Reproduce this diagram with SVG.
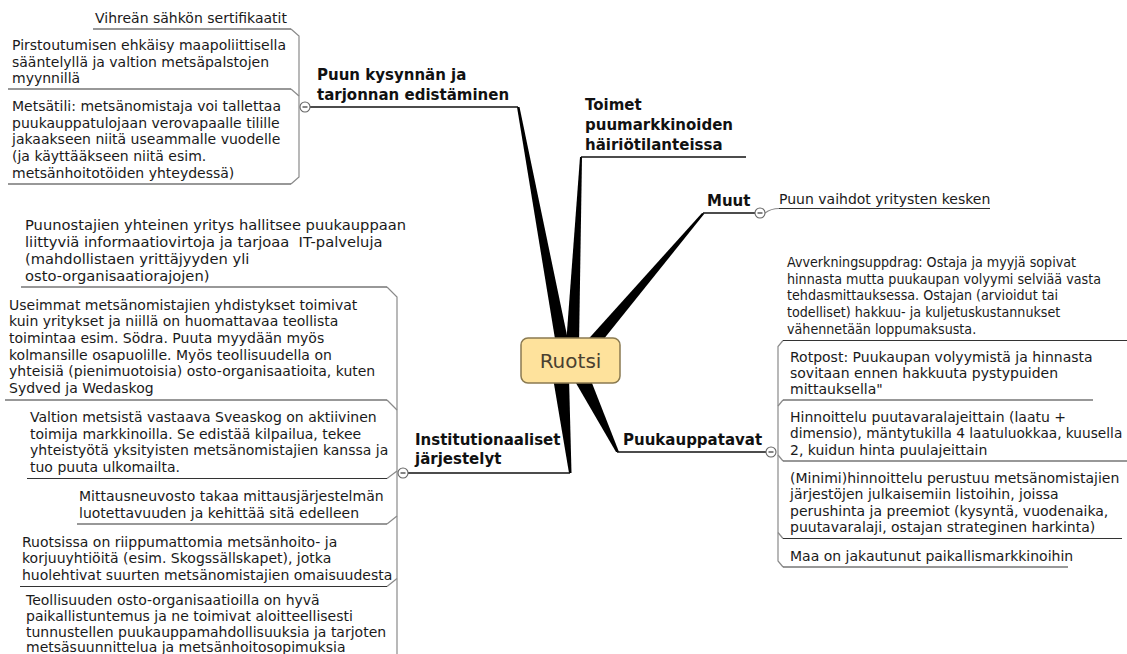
<svg xmlns="http://www.w3.org/2000/svg" width="1127" height="654" viewBox="0 0 1127 654">
  <style>
    .t { font-family: "DejaVu Sans", Verdana, sans-serif; font-size: 14px; fill: #1a1a1a; }
    .t15 { font-size: 14.7px; }
    .h { font-family: "DejaVu Sans", Verdana, sans-serif; font-size: 15px; font-weight: bold; fill: #111; }
    .root { font-family: "DejaVu Sans", Verdana, sans-serif; font-size: 20px; fill: #4a4030; }
    .ul { stroke: #333; stroke-width: 1.2; fill: none; }
    .br { stroke: #8a8a8a; stroke-width: 1.2; fill: none; }
    .main { stroke: #111; stroke-width: 1.5; fill: none; }
    .wedge { fill: #000; }
    .tog circle { fill: #fff; stroke: #666; stroke-width: 1.1; }
    .tog line { stroke: #333; stroke-width: 1.2; }
  </style>
  <defs>
    <g id="toggle" class="tog">
      <circle cx="0" cy="0" r="5"/>
      <line x1="-2.5" y1="0" x2="2.5" y2="0"/>
    </g>
  </defs>
  <rect width="1127" height="654" fill="#fff"/>

  <!-- connectors: tapered branches from the root, brackets of subtopics -->
  <g id="connectors">
    <polygon class="wedge" points="517,107 519.5,107 569,345 556,345"/>
    <polygon class="wedge" points="580,157 582,157 579,345 566,345"/>
    <polygon class="wedge" points="702,213 704.5,213.5 599,345 583,345"/>
    <polygon class="wedge" points="573,378 590,378 619,452 616,452"/>
    <polygon class="wedge" points="553,378 569,378 571.5,473 569,473"/>

    <path class="main" d="M310,107 H518"/>
    <path class="main" d="M581,157 H746"/>
    <path class="main" d="M703,213 H755"/>
    <path class="main" d="M617,452 H766"/>
    <path class="main" d="M408,473 H570"/>

    <!-- left upper bracket -->
    <path class="br" d="M291,29 L299,36 V177 L291,184"/>
    <path class="br" d="M291,89 L299,96"/>
    <!-- left lower bracket -->
    <path class="br" d="M387,287 L397,297 V660"/>
    <path class="br" d="M387,400 L397,410"/>
    <path class="br" d="M387,478.5 L397,471"/>
    <path class="br" d="M387,524 L397,516"/>
    <path class="br" d="M387,586.5 L397,578.5"/>
    <!-- right bracket -->
    <path class="br" d="M783,340.5 L778,346.5 V561 L783,567"/>
    <path class="br" d="M783,400 L778,406"/>
    <path class="br" d="M783,461 L778,455"/>
    <path class="br" d="M783,538.5 L778,532.5"/>
    <!-- Muut to its single child -->
    <path class="br" d="M765,213 Q771,208.5 779,208.5"/>
  </g>

  <g id="node-root">
    <rect x="521" y="338" width="99" height="45" rx="7" fill="#fee29c" stroke="#8a7a50" stroke-width="1.5"/>
    <text class="root" x="570.5" y="368" text-anchor="middle">Ruotsi</text>
  </g>

  <g id="node-kysynta">
    <text class="h" x="317" y="80">Puun kysynnän ja</text>
    <text class="h" x="317" y="100">tarjonnan edistäminen</text>
    <use href="#toggle" x="305" y="107"/>
  </g>
  <g id="node-toimet">
    <text class="h" x="585" y="110">Toimet</text>
    <text class="h" x="585" y="130">puumarkkinoiden</text>
    <text class="h" x="585" y="149.5">häiriötilanteissa</text>
  </g>
  <g id="node-muut">
    <text class="h" x="707" y="206">Muut</text>
    <use href="#toggle" x="760" y="213"/>
  </g>
  <g id="node-puukauppatavat">
    <text class="h" x="623" y="445">Puukauppatavat</text>
    <use href="#toggle" x="771" y="452"/>
  </g>
  <g id="node-institutionaaliset">
    <text class="h" x="415" y="445">Institutionaaliset</text>
    <text class="h" x="415" y="464">järjestelyt</text>
    <use href="#toggle" x="403" y="473"/>
  </g>

  <!-- subtopics: Puun kysynnän ja tarjonnan edistäminen -->
  <g id="node-vihrea">
    <text class="t" x="95" y="23">Vihreän sähkön sertifikaatit</text>
    <path class="ul" d="M93,29 H291"/>
  </g>
  <g id="node-pirstoutuminen">
    <text class="t" x="12" y="50">Pirstoutumisen ehkäisy maapoliittisella</text>
    <text class="t" x="12" y="66.7">sääntelyllä ja valtion metsäpalstojen</text>
    <text class="t" x="12" y="83.4">myynnillä</text>
    <path class="ul" d="M8,89 H291"/>
  </g>
  <g id="node-metsatili">
    <text class="t" x="12" y="111">Metsätili: metsänomistaja voi tallettaa</text>
    <text class="t" x="12" y="127.7">puukauppatulojaan verovapaalle tilille</text>
    <text class="t" x="12" y="144.4">jakaakseen niitä useammalle vuodelle</text>
    <text class="t" x="12" y="161.1">(ja käyttääkseen niitä esim.</text>
    <text class="t" x="12" y="177.8">metsänhoitotöiden yhteydessä)</text>
    <path class="ul" d="M8,184 H291"/>
  </g>

  <!-- subtopics: Muut -->
  <g id="node-vaihdot">
    <text class="t" x="779" y="204">Puun vaihdot yritysten kesken</text>
    <path class="ul" d="M779,208.5 H990"/>
  </g>

  <!-- subtopics: Puukauppatavat -->
  <g id="node-avverkning">
    <!-- this topic uses a narrower type: squeeze horizontally about its left edge -->
    <g transform="translate(787,0) scale(0.91,1) translate(-787,0)">
      <text class="t" x="787" y="267">Avverkningsuppdrag: Ostaja ja myyjä sopivat</text>
      <text class="t" x="787" y="283.7">hinnasta mutta puukaupan volyymi selviää vasta</text>
      <text class="t" x="787" y="300.4">tehdasmittauksessa. Ostajan (arvioidut tai</text>
      <text class="t" x="787" y="317.1">todelliset) hakkuu- ja kuljetuskustannukset</text>
      <text class="t" x="787" y="333.8">vähennetään loppumaksusta.</text>
    </g>
    <path class="ul" d="M783,340.5 H1127"/>
  </g>
  <g id="node-rotpost">
    <text class="t" x="790" y="361.5">Rotpost: Puukaupan volyymistä ja hinnasta</text>
    <text class="t" x="790" y="378">sovitaan ennen hakkuuta pystypuiden</text>
    <text class="t" x="790" y="394">mittauksella"</text>
    <path class="ul" d="M783,400 H1093"/>
  </g>
  <g id="node-hinnoittelu">
    <text class="t" x="790" y="421.5">Hinnoittelu puutavaralajeittain (laatu +</text>
    <text class="t" x="790" y="438" style="font-size:13.7px">dimensio), mäntytukilla 4 laatuluokkaa, kuusella</text>
    <text class="t" x="790" y="454.5">2, kuidun hinta puulajeittain</text>
    <path class="ul" d="M783,461 H1127"/>
  </g>
  <g id="node-minimi">
    <text class="t" x="790" y="482.5">(Minimi)hinnoittelu perustuu metsänomistajien</text>
    <text class="t" x="790" y="499">järjestöjen julkaisemiin listoihin, joissa</text>
    <text class="t" x="790" y="515.5">perushinta ja preemiot (kysyntä, vuodenaika,</text>
    <text class="t" x="790" y="532">puutavaralaji, ostajan strateginen harkinta)</text>
    <path class="ul" d="M783,538.5 H1122"/>
  </g>
  <g id="node-paikallis">
    <text class="t" x="790" y="560.5">Maa on jakautunut paikallismarkkinoihin</text>
    <path class="ul" d="M783,567 H1068"/>
  </g>

  <!-- subtopics: Institutionaaliset järjestelyt -->
  <g id="node-puunostajat">
    <text class="t t15" x="25" y="229.5">Puunostajien yhteinen yritys hallitsee puukauppaan</text>
    <text class="t t15" x="25" y="246.5" xml:space="preserve">liittyviä informaatiovirtoja ja tarjoaa  IT-palveluja</text>
    <text class="t t15" x="25" y="263.5">(mahdollistaen yrittäjyyden yli</text>
    <text class="t t15" x="25" y="280.5">osto-organisaatiorajojen)</text>
    <path class="ul" d="M21,287 H387"/>
  </g>
  <g id="node-yhdistykset">
    <text class="t" x="9" y="309.5">Useimmat metsänomistajien yhdistykset toimivat</text>
    <text class="t" x="9" y="326.2">kuin yritykset ja niillä on huomattavaa teollista</text>
    <text class="t" x="9" y="342.9">toimintaa esim. Södra. Puuta myydään myös</text>
    <text class="t" x="9" y="359.6">kolmansille osapuolille. Myös teollisuudella on</text>
    <text class="t" x="9" y="376.3">yhteisiä (pienimuotoisia) osto-organisaatioita, kuten</text>
    <text class="t" x="9" y="393">Sydved ja Wedaskog</text>
    <path class="ul" d="M5,400 H387"/>
  </g>
  <g id="node-sveaskog">
    <text class="t" x="30" y="422">Valtion metsistä vastaava Sveaskog on aktiivinen</text>
    <text class="t" x="30" y="438.7">toimija markkinoilla. Se edistää kilpailua, tekee</text>
    <text class="t" x="30" y="455.4">yhteistyötä yksityisten metsänomistajien kanssa ja</text>
    <text class="t" x="30" y="472.1">tuo puuta ulkomailta.</text>
    <path class="ul" d="M27,478.5 H387"/>
  </g>
  <g id="node-mittausneuvosto">
    <text class="t" x="79" y="501">Mittausneuvosto takaa mittausjärjestelmän</text>
    <text class="t" x="79" y="517.7">luotettavuuden ja kehittää sitä edelleen</text>
    <path class="ul" d="M77,524 H387"/>
  </g>
  <g id="node-korjuuyhtiot">
    <text class="t" x="22" y="546.5">Ruotsissa on riippumattomia metsänhoito- ja</text>
    <text class="t" x="22" y="563.2">korjuuyhtiöitä (esim. Skogssällskapet), jotka</text>
    <text class="t" x="22" y="579.9">huolehtivat suurten metsänomistajien omaisuudesta</text>
    <path class="ul" d="M20,586.5 H387"/>
  </g>
  <g id="node-teollisuus">
    <text class="t" x="26" y="604.5">Teollisuuden osto-organisaatioilla on hyvä</text>
    <text class="t" x="26" y="620.5">paikallistuntemus ja ne toimivat aloitteellisesti</text>
    <text class="t" x="26" y="636.5">tunnustellen puukauppamahdollisuuksia ja tarjoten</text>
    <text class="t" x="26" y="652">metsäsuunnittelua ja metsänhoitosopimuksia</text>
  </g>
</svg>
